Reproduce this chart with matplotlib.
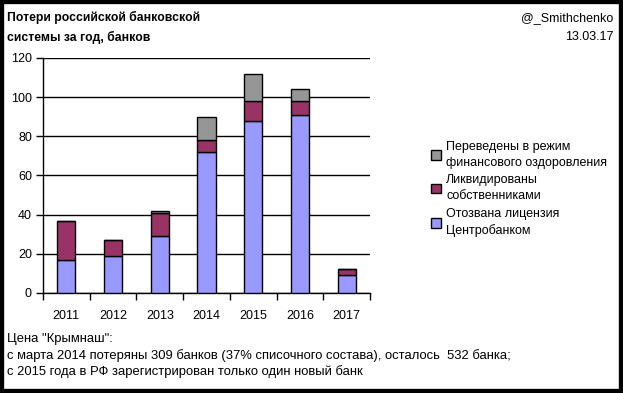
import matplotlib
matplotlib.use("Agg")
import matplotlib.pyplot as plt
from matplotlib.patches import Rectangle
import numpy as np

plt.rcParams['font.family'] = ['Liberation Sans', 'DejaVu Sans']

# ================= DATA =================
years = ['2011', '2012', '2013', '2014', '2015', '2016', '2017']
revoked = [17, 19, 29, 72, 88, 91, 9]       # Отозвана лицензия Центробанком
liquidated = [20, 8, 12, 6, 10, 7, 3]       # Ликвидированы собственниками
sanation = [0, 0, 1, 12, 14, 6, 0]          # Переведены в режим фин. оздоровления

labels = ['Переведены в режим\nфинансового оздоровления',
          'Ликвидированы\nсобственниками',
          'Отозвана лицензия\nЦентробанком']
colors = ['#969696', '#993366', '#9999FF']

# ================= FIGURE =================
fig = plt.figure(figsize=(6.23, 3.93), dpi=100)
ax = fig.add_axes([0.069, 0.2545, 0.525, 0.598])

x = np.arange(len(years))
w = 0.39
b1 = ax.bar(x, revoked, w, color=colors[2], edgecolor='black', linewidth=1, zorder=3)
b2 = ax.bar(x, liquidated, w, bottom=revoked, color=colors[1], edgecolor='black',
            linewidth=1, zorder=3)
bottom2 = np.array(revoked) + np.array(liquidated)
b3 = ax.bar(x, sanation, w, bottom=bottom2, color=colors[0], edgecolor='black',
            linewidth=1, zorder=3)

ax.set_ylim(0, 120)
ax.set_xlim(-0.5, len(years) - 0.5)
ax.set_yticks(range(0, 121, 20))
ax.yaxis.grid(True, color='black', linewidth=1)
ax.set_axisbelow(True)
for s in ['top', 'right']:
    ax.spines[s].set_visible(False)
ax.spines['left'].set_linewidth(1)
ax.spines['bottom'].set_linewidth(1)

# x ticks between categories, labels centred
ax.set_xticks(np.arange(-0.5, len(years), 1))
ax.set_xticklabels([])
ax.set_xticks(x, minor=True)
ax.set_xticklabels(years, minor=True)
ax.tick_params(axis='x', which='minor', length=0, labelsize=9, pad=12)
ax.tick_params(axis='x', which='major', length=5, width=1, direction='out')
ax.tick_params(axis='y', length=5, width=1, direction='out', labelsize=9, pad=3)

# legend
handles = [b3[0], b2[0], b1[0]]
fig.legend(handles, labels, loc='upper left', bbox_to_anchor=(0.683, 0.655),
           frameon=False, fontsize=9, handlelength=0.8, handleheight=0.8,
           handletextpad=0.45, labelspacing=0.45, borderaxespad=0)
for t in fig.legends[0].get_texts():
    t.set_linespacing(1.45)

# texts
fig.text(0.011, 0.972, 'Потери российской банковской\nсистемы за год, банков',
         fontsize=8.8, fontweight='bold', va='top', ha='left', linespacing=1.7)
fig.text(0.985, 0.97, '@_Smithchenko\n13.03.17', fontsize=9, va='top', ha='right',
         linespacing=1.85)
fig.text(0.011, 0.152,
         'Цена "Крымнаш":\n'
         'с марта 2014 потеряны 309 банков (37% списочного состава), осталось  532 банка;\n'
         'с 2015 года в РФ зарегистрирован только один новый банк',
         fontsize=9.4, va='top', ha='left', linespacing=1.36)

# black frame
fig.patches.append(Rectangle((0, 0), 1, 1, transform=fig.transFigure, fill=False,
                             edgecolor='black', linewidth=6))

plt.savefig('out.png', dpi=100)
